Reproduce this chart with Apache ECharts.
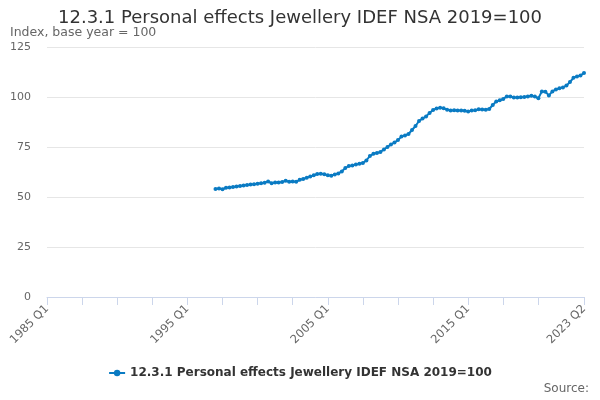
<!DOCTYPE html>
<html>
<head>
<meta charset="utf-8">
<style>
  html, body { margin: 0; padding: 0; background: #fff; }
  #chart { width: 600px; height: 400px; }
</style>
<script src="https://cdn.jsdelivr.net/npm/echarts@6/dist/echarts.min.js"></script>
</head>
<body>
<div id="chart"></div>
<script>
// quarters shown on the axis: 1985 Q1 .. 2023 Q2
const startYear = 1985;
const endYear = 2023;
const endQuarter = 2;
const quarters = [];
for (let y = startYear; y <= endYear; y++) {
    for (let q = 1; q <= 4; q++) {
        if (y === endYear && q > endQuarter) break;
        quarters.push(y + ' Q' + q);
    }
}

// series starts 1997 Q1
const firstDataQuarter = '1997 Q1';
const jewellery = [
    54.0, 54.3, 53.9, 54.6,   // 1997
    54.8, 55.0, 55.3, 55.5,   // 1998
    55.7, 56.0, 56.2, 56.4,   // 1999
    56.6, 56.9, 57.1, 57.8,   // 2000
    56.9, 57.3, 57.2, 57.5,   // 2001
    58.1, 57.6, 57.7, 57.6,   // 2002
    58.6, 59.0, 59.6, 60.2,   // 2003
    60.9, 61.5, 61.6, 61.4,   // 2004
    60.9, 60.6, 61.3, 61.8,   // 2005
    62.8, 64.5, 65.5, 65.8,   // 2006
    66.2, 66.6, 67.0, 68.3,   // 2007
    70.5, 71.6, 72.0, 72.5,   // 2008
    73.8, 75.0, 76.3, 77.2,   // 2009
    78.5, 80.2, 80.8, 81.5,   // 2010
    83.5, 85.5, 88.0, 89.2,   // 2011
    90.3, 92.0, 93.5, 94.3,   // 2012
    94.6, 94.4, 93.6, 93.3,   // 2013
    93.4, 93.3, 93.2, 93.1,   // 2014
    92.7, 93.3, 93.4, 93.9,   // 2015
    93.8, 93.6, 94.0, 96.0,   // 2016
    97.8, 98.4, 99.0, 100.3,  // 2017
    100.2, 99.8, 99.7, 99.9,  // 2018
    100.0, 100.3, 100.6, 100.2, // 2019
    99.4, 102.8, 102.6, 100.8,  // 2020
    102.8, 103.8, 104.4, 104.8, // 2021
    105.7, 107.5, 109.6, 110.3, // 2022
    110.8, 112.0              // 2023
];

const yTicks = [0, 25, 50, 75, 100, 125];

const seriesName = '12.3.1 Personal effects Jewellery IDEF NSA 2019=100';
const lineColor = '#0a7bc3';
const fontFamily = 'DejaVu Sans, sans-serif';

// pad the missing early quarters with null
const offset = quarters.indexOf(firstDataQuarter);
const seriesData = quarters.map((q, i) => (i >= offset ? jewellery[i - offset] : null));
const lastIdx = quarters.length - 1;

const chart = echarts.init(document.getElementById('chart'));
chart.setOption({
    animation: false,
    textStyle: { fontFamily: fontFamily },
    title: [
        {
            text: seriesName,
            left: 'center',
            top: 4,
            textStyle: { color: '#333333', fontSize: 18, fontWeight: 'normal', fontFamily: fontFamily }
        },
        {
            text: 'Index, base year = 100',
            left: 5,
            top: 21,
            textStyle: { color: '#666666', fontSize: 12.5, fontWeight: 'normal', fontFamily: fontFamily }
        },
        {
            text: 'Source:',
            right: 6,
            bottom: 0,
            textStyle: { color: '#666666', fontSize: 12, fontWeight: 'normal', fontFamily: fontFamily }
        }
    ],
    legend: {
        data: [seriesName],
        bottom: 16,
        left: 'center',
        itemWidth: 16,
        itemHeight: 8,
        textStyle: { color: '#333333', fontSize: 12, fontWeight: 'bold', fontFamily: fontFamily }
    },
    grid: { left: 47, right: 16, top: 47, bottom: 103 },
    xAxis: {
        type: 'category',
        boundaryGap: false,
        data: quarters,
        axisLine: { lineStyle: { color: '#ccd6eb' } },
        axisTick: {
            length: 8,
            lineStyle: { color: '#ccd6eb' },
            interval: (i) => (i % 10 === 0 && i <= 140) || i === lastIdx
        },
        axisLabel: {
            rotate: 45,
            color: '#666666',
            fontSize: 11.5,
            margin: 10,
            interval: (i) => i % 40 === 0 || i === lastIdx
        },
        splitLine: { show: false }
    },
    yAxis: {
        type: 'value',
        min: yTicks[0],
        max: yTicks[yTicks.length - 1],
        interval: 25,
        axisLine: { show: false },
        axisTick: { show: false },
        axisLabel: { color: '#666666', fontSize: 11, margin: 16 },
        splitLine: { lineStyle: { color: '#e6e6e6' } }
    },
    series: [
        {
            name: seriesName,
            type: 'line',
            data: seriesData,
            connectNulls: false,
            symbol: 'circle',
            symbolSize: 4,
            showSymbol: true,
            showAllSymbol: true,
            lineStyle: { width: 2, color: lineColor },
            itemStyle: { color: lineColor }
        }
    ]
});
</script>
</body>
</html>
